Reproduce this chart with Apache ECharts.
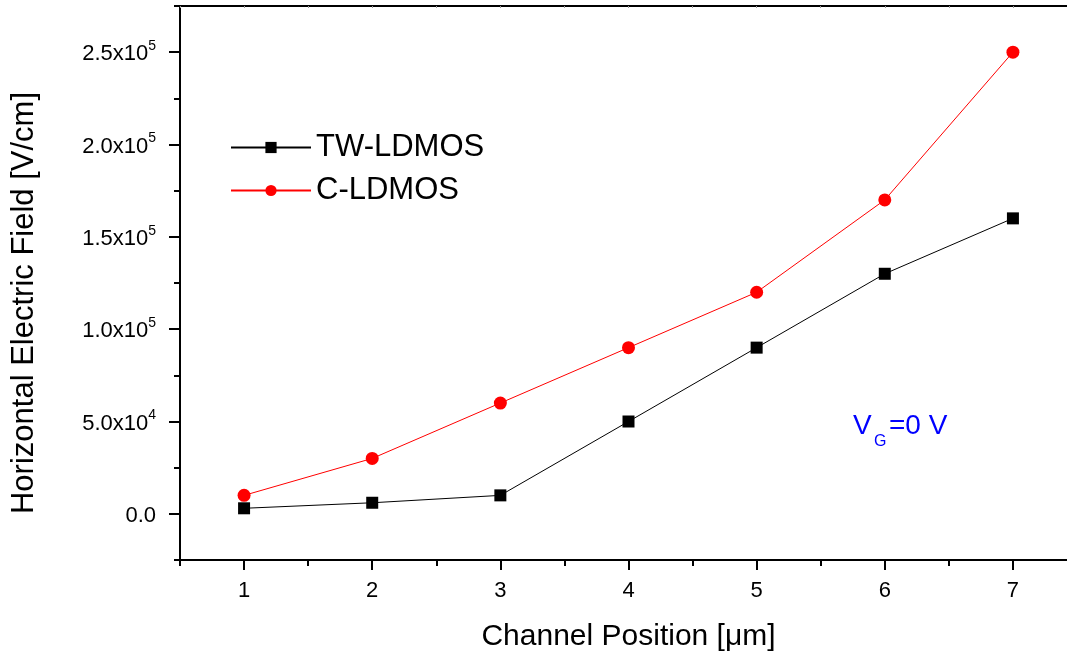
<!DOCTYPE html>
<html>
<head>
<meta charset="utf-8">
<script src="https://cdn.jsdelivr.net/npm/echarts@6/dist/echarts.min.js"></script>
<style>
  html, body { margin: 0; padding: 0; background: #fff; }
  #chart { width: 1067px; height: 657px; }
</style>
</head>
<body>
<div id="chart"></div>
<script>
// 数据
const positions = [1, 2, 3, 4, 5, 6, 7];
const twLdmos = [3000, 6000, 10000, 50000, 90000, 130000, 160000];
const cLdmos = [10000, 30000, 60000, 90000, 120000, 170000, 250000];
const xMajorTicks = [1, 2, 3, 4, 5, 6, 7];
const yMajorTicks = [0, 50000, 100000, 150000, 200000, 250000];

const FONT = 'Arial, "Liberation Sans", sans-serif';

function zip(xs, ys) {
  return xs.map((x, i) => [x, ys[i]]);
}

// 科学计数法标签 2.5x10^5
function sciLabel(v) {
  if (v === 0) return '{m|0.0}';
  let exp = Math.floor(Math.log10(Math.abs(v)));
  let mant = (v / Math.pow(10, exp)).toFixed(1);
  return '{m|' + mant + 'x10}{s|' + exp + '}';
}

let chart = echarts.init(document.getElementById('chart'));

let baseX = { type: 'value', min: 0.5, max: 7.5, interval: 0.5, splitLine: { show: false } };
let baseY = { type: 'value', min: -25000, max: 275000, interval: 25000, position: 'left', splitLine: { show: false } };

let option = {
  backgroundColor: '#fff',
  animation: false,
  grid: { left: 180, top: 6, width: 897, height: 554, outerBoundsMode: 'none', containLabel: false },
  legend: {
    orient: 'vertical',
    left: 225,
    top: 127,
    itemWidth: 80,
    itemHeight: 14,
    itemGap: 12,
    textStyle: { fontSize: 31, fontFamily: FONT, color: '#000', lineHeight: 30 },
    data: ['TW-LDMOS', 'C-LDMOS']
  },
  xAxis: [
    Object.assign({}, baseX, {
      position: 'bottom',
      axisLine: { onZero: false, lineStyle: { color: '#000', width: 2 } },
      axisTick: { length: 6, lineStyle: { color: '#000', width: 2 } },
      axisLabel: { show: false }
    }),
    Object.assign({}, baseX, {
      position: 'bottom',
      axisLine: { show: false, onZero: false },
      axisTick: { customValues: xMajorTicks, length: 10, lineStyle: { color: '#000', width: 2 } },
      axisLabel: { customValues: xMajorTicks, fontSize: 22, fontFamily: FONT, color: '#000', margin: 20 },
      name: 'Channel Position [μm]',
      nameLocation: 'middle',
      nameGap: 62,
      nameTextStyle: { fontSize: 30, fontFamily: FONT, color: '#000' }
    }),
    Object.assign({}, baseX, {
      position: 'top',
      axisLine: { onZero: false, lineStyle: { color: '#000', width: 2 } },
      axisTick: { inside: true, length: 2, lineStyle: { color: '#999', width: 1 } },
      axisLabel: { show: false }
    })
  ],
  yAxis: [
    Object.assign({}, baseY, {
      axisLine: { onZero: false, lineStyle: { color: '#000', width: 2 } },
      axisTick: { length: 6, lineStyle: { color: '#000', width: 2 } },
      axisLabel: { show: false }
    }),
    Object.assign({}, baseY, {
      axisLine: { show: false, onZero: false },
      axisTick: { customValues: yMajorTicks, length: 11, lineStyle: { color: '#000', width: 2 } },
      axisLabel: {
        customValues: yMajorTicks,
        margin: 24,
        formatter: sciLabel,
        rich: {
          m: { fontSize: 22, fontFamily: FONT, color: '#000', lineHeight: 26, verticalAlign: 'bottom' },
          s: { fontSize: 14, fontFamily: FONT, color: '#000', lineHeight: 26, verticalAlign: 'top' }
        }
      }
    })
  ],
  graphic: [
    {
      type: 'text', x: 24, y: 303, rotation: Math.PI / 2,
      style: { text: 'Horizontal Electric Field [V/cm]', fontSize: 31, fontFamily: FONT, fill: '#000', align: 'center', verticalAlign: 'middle' }
    },
    { type: 'text', x: 853, y: 426, style: { text: 'V', fontSize: 28, fontFamily: FONT, fill: '#0000ff', verticalAlign: 'middle' } },
    { type: 'text', x: 874, y: 442, style: { text: 'G', fontSize: 16, fontFamily: FONT, fill: '#0000ff', verticalAlign: 'middle' } },
    { type: 'text', x: 889, y: 426, style: { text: '=0 V', fontSize: 28, fontFamily: FONT, fill: '#0000ff', verticalAlign: 'middle' } }
  ],
  series: [
    {
      name: 'TW-LDMOS', type: 'line', xAxisIndex: 0, yAxisIndex: 0,
      data: zip(positions, twLdmos),
      symbol: 'rect', symbolSize: 12,
      itemStyle: { color: '#000' },
      lineStyle: { color: '#000', width: 1 }
    },
    {
      name: 'C-LDMOS', type: 'line', xAxisIndex: 0, yAxisIndex: 0,
      data: zip(positions, cLdmos),
      symbol: 'circle', symbolSize: 13,
      itemStyle: { color: '#ff0000' },
      lineStyle: { color: '#ff0000', width: 1 }
    }
  ]
};

chart.setOption(option);
</script>
</body>
</html>
